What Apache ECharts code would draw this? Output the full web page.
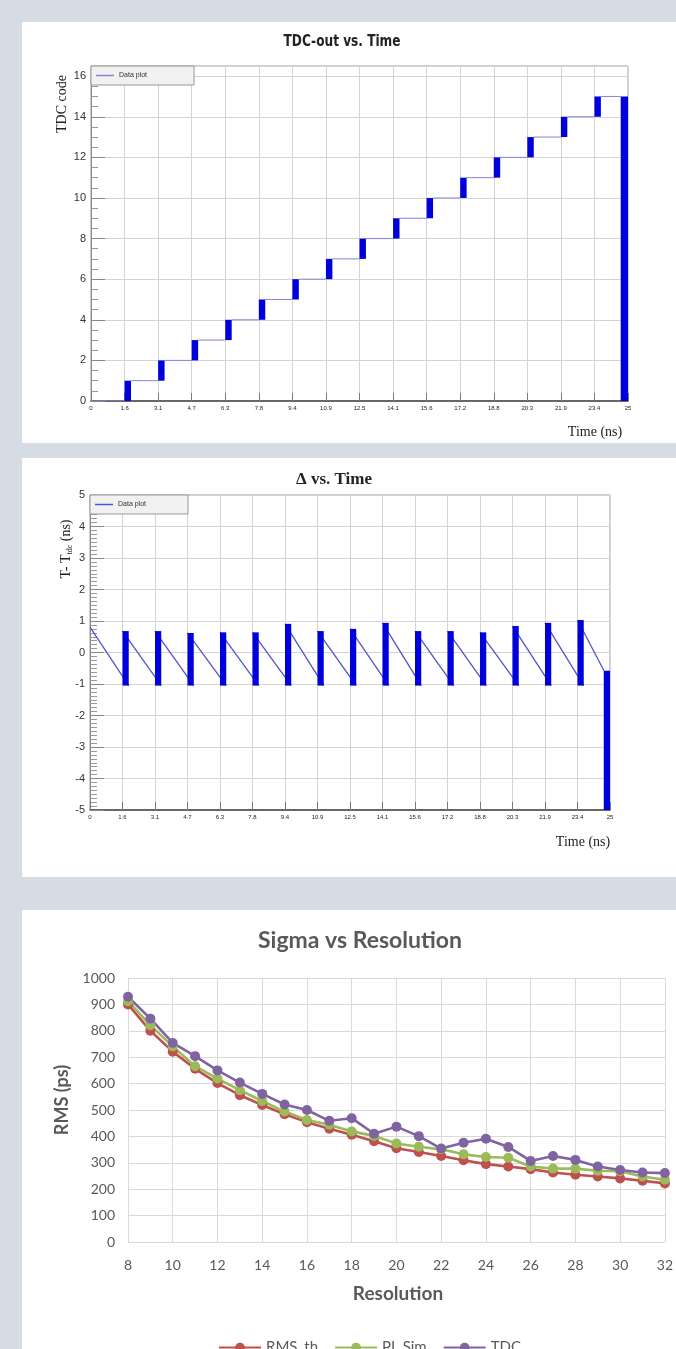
<!DOCTYPE html>
<html><head><meta charset="utf-8">
<script src="https://cdn.jsdelivr.net/npm/echarts@6/dist/echarts.min.js"></script>
<style>
html,body{margin:0;padding:0;background:#d6dce4;width:676px;height:1349px;overflow:hidden;position:relative}
.p{position:absolute;left:22px;width:654px;background:#fff}
#c1{top:22px;height:421px}
#c2{top:458px;height:419px}
#c3{top:910px;height:439px}
</style></head><body>
<div id="c1" class="p"></div>
<div id="c2" class="p"></div>
<div id="c3" class="p"></div>
<script>
// ---------- data: panels 1 & 2 (time axis) ----------
const timeTickStep = 1.5625;
const timeTickLabels = ['0','1.6','3.1','4.7','6.3','7.8','9.4','10.9','12.5','14.1','15.6','17.2','18.8','20.3','21.9','23.4','25'];
const stepTimes = [1.5625, 3.125, 4.6875, 6.25, 7.8125, 9.375, 10.9375, 12.5, 14.0625, 15.625, 17.1875, 18.75, 20.3125, 21.875, 23.4375];
const tdcLevels = [0, 1, 2, 3, 4, 5, 6, 7, 8, 9, 10, 11, 12, 13, 14, 15];
const jitterWidth = 0.3;
const finalDropTime = [24.66, 25];
const tdcFinalLevel = 0;

// delta vs time: value at start of each interval and at its end
const deltaStartTimes = [0, 1.5625, 3.125, 4.6875, 6.25, 7.8125, 9.375, 10.9375, 12.5, 14.0625, 15.625, 17.1875, 18.75, 20.3125, 21.875, 23.4375];
const deltaTop = [0.81, 0.68, 0.68, 0.62, 0.64, 0.64, 0.91, 0.68, 0.75, 0.94, 0.68, 0.68, 0.64, 0.84, 0.94, 1.03];
const deltaBottom = [-1.05, -1.05, -1.05, -1.05, -1.05, -1.05, -1.05, -1.05, -1.05, -1.05, -1.05, -1.05, -1.05, -1.05, -1.05, -0.58];
const deltaFinalLow = -5;

// ---------- data: panel 3 ----------
const resolution = [8,9,10,11,12,13,14,15,16,17,18,19,20,21,22,23,24,25,26,27,28,29,30,31,32];
const rmsTh = [900,800,721,656,602,556,519,484,454,429,406,382,355,341,326,310,295,286,276,263,255,248,241,232,222];
const plSim = [912,821,741,666,619,575,534,494,462,444,419,402,373,361,351,332,322,319,286,278,278,270,268,248,236];
const tdcMeas = [929,846,754,704,650,604,561,521,500,459,469,410,437,401,354,376,391,360,307,326,311,286,273,263,261];

// ---------- helpers ----------
const BLUE = '#0000dc';
const SERIF = "'Liberation Serif','DejaVu Serif',serif";
const SANS = "'Liberation Sans','DejaVu Sans',sans-serif";

function lineSeries(name, data, color, width) {
  return {
    name, type: 'custom', clip: true, data,
    itemStyle: {color: color},
    encode: {x: [0, 2], y: [1, 3]},
    renderItem: (p, api) => {
      const a = api.coord([api.value(0), api.value(1)]);
      const b = api.coord([api.value(2), api.value(3)]);
      return {type: 'line', shape: {x1: a[0], y1: a[1], x2: b[0], y2: b[1]}, style: {stroke: color, lineWidth: width}};
    }
  };
}
function rectSeries(data) {
  return {
    name: 'bars', type: 'custom', clip: true, data,
    encode: {x: [0, 1], y: [2, 3]},
    renderItem: (p, api) => {
      const a = api.coord([api.value(0), api.value(3)]);
      const b = api.coord([api.value(1), api.value(2)]);
      return {type: 'rect', shape: {x: a[0], y: a[1], width: b[0] - a[0], height: b[1] - a[1]}, style: {fill: BLUE}};
    }
  };
}
function timeXAxis() {
  return {
    type: 'value', min: 0, max: 25, interval: timeTickStep,
    axisLine: {show: true, onZero: false, lineStyle: {color: '#444', width: 1.5}},
    axisTick: {show: true, inside: true, length: 8, lineStyle: {color: '#777'}},
    axisLabel: {fontSize: 6, color: '#222', margin: 4, fontFamily: SANS,
      formatter: v => timeTickLabels[Math.round(v / timeTickStep)]},
    splitLine: {show: true, lineStyle: {color: '#d4d4d4'}}
  };
}
function rootLegend(w) {
  return {
    left: 68, top: 0, data: [{name: 'Data plot', icon: 'rect'}],
    itemWidth: 18, itemHeight: 1.5, itemGap: 4,
    padding: [6, w, 6, 5], backgroundColor: '#f1f1f1', borderColor: '#999', borderWidth: 1,
    textStyle: {fontSize: 7, color: '#333', fontFamily: SANS}, selectedMode: false
  };
}

// ---------- panel 1 ----------
(function () {
  const c = echarts.init(document.getElementById('c1'), null, {renderer: 'canvas'});
  const bars = stepTimes.map((t, i) => [t, t + jitterWidth, tdcLevels[i], tdcLevels[i + 1]]);
  bars.push([finalDropTime[0], finalDropTime[1], tdcFinalLevel, tdcLevels[tdcLevels.length - 1]]);
  const lines = [[0, tdcLevels[0], stepTimes[0], tdcLevels[0]]];
  stepTimes.forEach((t, i) => {
    const end = i < stepTimes.length - 1 ? stepTimes[i + 1] : finalDropTime[0];
    lines.push([t + jitterWidth, tdcLevels[i + 1], end, tdcLevels[i + 1]]);
  });
  const lg = rootLegend(47); lg.top = 44; lg.left = 69;
  c.setOption({
    animation: false,
    grid: {left: 69, right: 48, top: 44, bottom: 42, show: true, borderColor: '#9a9a9a', borderWidth: 1},
    legend: lg,
    xAxis: timeXAxis(),
    yAxis: {
      type: 'value', min: 0, max: 16.5, interval: 2,
      axisLine: {show: true, lineStyle: {color: '#888'}},
      axisTick: {show: true, inside: true, length: 14, lineStyle: {color: '#888'}},
      minorTick: {show: true, splitNumber: 4, length: 7, lineStyle: {color: '#999'}},
      axisLabel: {fontSize: 11, color: '#333', margin: 5, fontFamily: SANS, showMaxLabel: false,
        formatter: v => (v % 2 === 0 ? String(v) : '')},
      splitLine: {show: true, lineStyle: {color: '#d4d4d4'}}
    },
    series: [lineSeries('Data plot', lines, '#8484d8', 1), rectSeries(bars)],
    graphic: [
      {type: 'text', x: 320, y: 20, scaleX: 0.9, style: {text: 'TDC-out vs. Time', fontSize: 15, fontWeight: 'bold',
        fontFamily: "'Liberation Sans Narrow','DejaVu Sans Condensed',sans-serif", fill: '#222', align: 'center', verticalAlign: 'middle'}},
      {type: 'text', x: 40, y: 82, rotation: Math.PI / 2, style: {text: 'TDC code', fontSize: 14,
        fontFamily: SERIF, fill: '#222', align: 'center', verticalAlign: 'middle'}},
      {type: 'text', x: 573, y: 410, style: {text: 'Time (ns)', fontSize: 14,
        fontFamily: SERIF, fill: '#222', align: 'center', verticalAlign: 'middle'}}
    ]
  });
})();

// ---------- panel 2 ----------
(function () {
  const c = echarts.init(document.getElementById('c2'), null, {renderer: 'canvas'});
  const lines = deltaStartTimes.map((t, i) => {
    const end = i < deltaStartTimes.length - 1 ? deltaStartTimes[i + 1] + jitterWidth : finalDropTime[0] + 0.05;
    return [t, deltaTop[i], end, deltaBottom[i]];
  });
  const bars = stepTimes.map((t, i) => [t, t + jitterWidth, deltaBottom[i], deltaTop[i + 1]]);
  bars.push([finalDropTime[0] + 0.04, finalDropTime[1], deltaFinalLow, deltaBottom[deltaBottom.length - 1]]);
  const lg = rootLegend(42); lg.top = 37; lg.left = 68;
  c.setOption({
    animation: false,
    grid: {left: 68, right: 66, top: 37, bottom: 67, show: true, borderColor: '#9a9a9a', borderWidth: 1},
    legend: lg,
    xAxis: timeXAxis(),
    yAxis: {
      type: 'value', min: -5, max: 5, interval: 1,
      axisLine: {show: true, onZero: false, lineStyle: {color: '#888'}},
      axisTick: {show: true, inside: true, length: 14, lineStyle: {color: '#888'}},
      minorTick: {show: true, splitNumber: 8, length: 7, lineStyle: {color: '#999'}},
      axisLabel: {fontSize: 11, color: '#333', margin: 5, fontFamily: SANS},
      splitLine: {show: true, lineStyle: {color: '#d4d4d4'}}
    },
    series: [lineSeries('Data plot', lines, '#5252cc', 1.3), rectSeries(bars)],
    graphic: [
      {type: 'text', x: 312, y: 22, style: {text: 'Δ vs. Time', fontSize: 17, fontWeight: 'bold',
        fontFamily: SERIF, fill: '#222', align: 'center', verticalAlign: 'middle'}},
      {type: 'text', x: 44, y: 91, rotation: Math.PI / 2, style: {
        text: '{n|T- T}{s|tdc}{n| (ns)}', align: 'center', verticalAlign: 'middle', fill: '#222',
        rich: {n: {fontSize: 14, fontFamily: SERIF, lineHeight: 16, fill: '#222'},
               s: {fontSize: 8, fontFamily: SERIF, lineHeight: 9, verticalAlign: 'bottom', fill: '#222'}}}},
      {type: 'text', x: 561, y: 384, style: {text: 'Time (ns)', fontSize: 14,
        fontFamily: SERIF, fill: '#222', align: 'center', verticalAlign: 'middle'}}
    ]
  });
})();

// ---------- panel 3 ----------
(function () {
  const c = echarts.init(document.getElementById('c3'), null, {renderer: 'canvas'});
  const LATO = "Lato,'Open Sans',sans-serif";
  const mk = (name, vals, color) => ({
    name, type: 'line', data: resolution.map((x, i) => [x, vals[i]]),
    symbol: 'circle', symbolSize: 10, showSymbol: true,
    lineStyle: {width: 2.6, color}, itemStyle: {color}
  });
  c.setOption({
    animation: false,
    grid: {left: 106, right: 6, top: 68, bottom: 107},
    legend: {left: 191, top: 425, itemWidth: 42, itemHeight: 12, itemGap: 16,
      textStyle: {fontSize: 15, color: '#595959', fontFamily: LATO}, selectedMode: false},
    xAxis: {type: 'value', min: 8, max: 32, interval: 2,
      axisLine: {show: true, lineStyle: {color: '#d9d9d9'}}, axisTick: {show: false},
      axisLabel: {fontSize: 14, color: '#595959', margin: 16, fontFamily: LATO, formatter: v => String(v)},
      splitLine: {show: true, lineStyle: {color: '#d9d9d9'}}},
    yAxis: {type: 'value', min: 0, max: 1000, interval: 100,
      axisLine: {show: false}, axisTick: {show: false},
      axisLabel: {fontSize: 14, color: '#595959', margin: 13, fontFamily: LATO, formatter: v => String(v)},
      splitLine: {show: true, lineStyle: {color: '#d9d9d9'}}},
    series: [mk('RMS_th', rmsTh, '#c0504d'), mk('PL Sim', plSim, '#9bbb59'), mk('TDC', tdcMeas, '#8064a2')],
    graphic: [
      {type: 'text', x: 338, y: 31, style: {text: 'Sigma vs Resolution', fontSize: 23, fontWeight: 'bold',
        fontFamily: LATO, fill: '#595959', align: 'center', verticalAlign: 'middle'}},
      {type: 'text', x: 40, y: 190, rotation: Math.PI / 2, style: {text: 'RMS (ps)', fontSize: 18, fontWeight: 'bold',
        fontFamily: LATO, fill: '#595959', align: 'center', verticalAlign: 'middle'}},
      {type: 'text', x: 376, y: 384, style: {text: 'Resolution', fontSize: 19, fontWeight: 'bold',
        fontFamily: LATO, fill: '#595959', align: 'center', verticalAlign: 'middle'}}
    ]
  });
})();
</script>
</body></html>
